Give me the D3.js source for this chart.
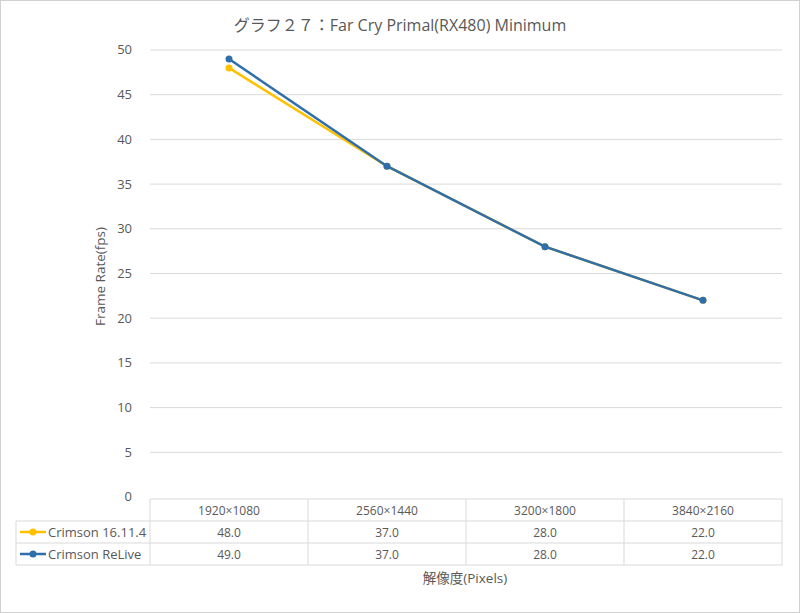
<!DOCTYPE html>
<html><head><meta charset="utf-8">
<script src="https://cdn.jsdelivr.net/npm/d3@7/dist/d3.min.js"></script>
<style>body{margin:0;background:#fff;} svg{display:block;}</style>
</head><body>
<svg id="c" width="800" height="613"></svg>
<script>
const categories = ["1920×1080", "2560×1440", "3200×1800", "3840×2160"];
const seriesNames = ["Crimson 16.11.4", "Crimson ReLive"];
const crimson1611 = [48.0, 37.0, 28.0, 22.0];
const crimsonReLive = [49.0, 37.0, 28.0, 22.0];
const yTicks = [0, 5, 10, 15, 20, 25, 30, 35, 40, 45, 50];
const colors = ["#FFC000", "#2E6FAB"];
const seriesValues = [crimson1611, crimsonReLive];

const font = "'Open Sans', 'Noto Sans CJK JP', sans-serif";
const txt = "#595959";
const svg = d3.select("#c");

svg.append("rect").attr("x",0.5).attr("y",0.5).attr("width",799).attr("height",612)
  .attr("fill","#fff").attr("stroke","#d0d0d0");

const L = 150, R = 782, T = 50, B = 497;
const x = d3.scaleBand().domain(categories).range([L, R]);
const y = d3.scaleLinear().domain([0, 50]).range([B, T]);

// gridlines
svg.append("g").selectAll("line").data(yTicks.filter(d=>d>0)).join("line")
  .attr("x1", L).attr("x2", R).attr("y1", d=>y(d)).attr("y2", d=>y(d))
  .attr("stroke", "#d9d9d9").attr("stroke-width", 1);

// y axis labels
const yAxis = d3.axisLeft(y).tickValues(yTicks).tickSize(0).tickPadding(0);
const ga = svg.append("g").attr("transform", `translate(${L-18},0)`).call(yAxis);
ga.select(".domain").remove();
ga.selectAll("text").attr("font-family", font).attr("font-size", 13).attr("fill", txt).attr("dy","0.3em");

// title
svg.append("text").attr("x", 400).attr("y", 31).attr("text-anchor","middle")
  .attr("font-family", font).attr("font-size", 16).attr("fill", txt)
  .text("グラフ２７：Far Cry Primal(RX480) Minimum");

// y title
svg.append("text").attr("transform", `translate(105,${(T+B)/2+3}) rotate(-90)`)
  .attr("text-anchor","middle").attr("font-family", font).attr("font-size", 13.5).attr("fill", txt)
  .text("Frame Rate(fps)");

// x title
svg.append("text").attr("x", 465).attr("y", 583).attr("text-anchor","middle")
  .attr("font-family", font).attr("font-size", 13.5).attr("fill", txt)
  .text("解像度(Pixels)");

// lines
const line = d3.line().x((d,i)=>x(categories[i]) + x.bandwidth()/2).y(d=>y(d));
seriesValues.forEach((vals, s) => {
  svg.append("path").datum(vals).attr("d", line).attr("fill","none")
    .attr("stroke", colors[s]).attr("stroke-width", 2.5).attr("stroke-linejoin","round");
  svg.append("g").selectAll("circle").data(vals).join("circle")
    .attr("cx", (d,i)=>x(categories[i]) + x.bandwidth()/2).attr("cy", d=>y(d))
    .attr("r", 3.5).attr("fill", colors[s]);
});

// data table
const rowH = 22, tTop = 499, legL = 16;
const tg = svg.append("g");
const gridC = "#d9d9d9";
tg.append("line").attr("x1", L).attr("x2", R).attr("y1", tTop).attr("y2", tTop).attr("stroke", gridC);
[1,2,3].forEach(k => tg.append("line").attr("x1", legL).attr("x2", R)
  .attr("y1", tTop + k*rowH).attr("y2", tTop + k*rowH).attr("stroke", gridC));
categories.forEach(c => tg.append("line").attr("x1", x(c)).attr("x2", x(c))
  .attr("y1", tTop).attr("y2", tTop + 3*rowH).attr("stroke", gridC));
tg.append("line").attr("x1", R).attr("x2", R).attr("y1", tTop).attr("y2", tTop+3*rowH).attr("stroke", gridC);
tg.append("line").attr("x1", legL).attr("x2", legL).attr("y1", tTop+rowH).attr("y2", tTop+3*rowH).attr("stroke", gridC);

tg.selectAll("text.h").data(categories).join("text").attr("class","h")
  .attr("x", d=>x(d)+x.bandwidth()/2).attr("y", tTop + rowH/2 + 4.5)
  .attr("text-anchor","middle").attr("font-family", font).attr("font-size", 12).attr("fill", txt)
  .text(d=>d);

seriesValues.forEach((vals, s) => {
  const cy = tTop + (s+1)*rowH + rowH/2;
  tg.selectAll(`text.v${s}`).data(vals).join("text").attr("class",`v${s}`)
    .attr("x", (d,i)=>x(categories[i])+x.bandwidth()/2).attr("y", cy + 4.5)
    .attr("text-anchor","middle").attr("font-family", font).attr("font-size", 12).attr("fill", txt)
    .text(d=>d.toFixed(1));
  tg.append("line").attr("x1", 20).attr("x2", 46).attr("y1", cy).attr("y2", cy)
    .attr("stroke", colors[s]).attr("stroke-width", 2.5);
  tg.append("circle").attr("cx", 33).attr("cy", cy).attr("r", 3.5).attr("fill", colors[s]);
  tg.append("text").attr("x", 48).attr("y", cy + 4.5)
    .attr("font-family", font).attr("font-size", 13).attr("fill", txt).text(seriesNames[s]);
});
</script>
</body></html>
